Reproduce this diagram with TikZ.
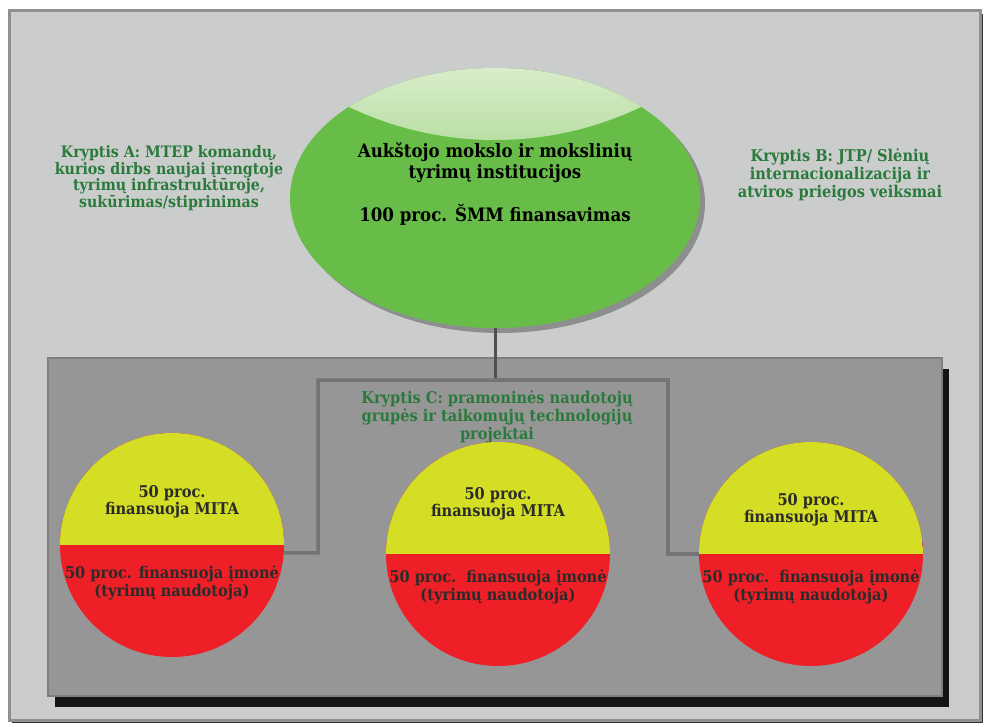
\documentclass[tikz,border=0pt]{standalone}
\usepackage{fontspec}
\setmainfont{DejaVu Serif}[FakeStretch=0.9]
\usetikzlibrary{shapes.geometric,shadows}
\definecolor{frameFill}{HTML}{CBCDCC}
\definecolor{frameLine}{HTML}{8F9092}
\definecolor{panelFill}{HTML}{969696}
\definecolor{panelLine}{HTML}{7E7E7E}
\definecolor{ovalGreen}{HTML}{67BD47}
\definecolor{hiTop}{HTML}{DCEFD0}
\definecolor{hiBot}{HTML}{B9DEA3}
\definecolor{mitaYellow}{HTML}{D4DE24}
\definecolor{firmRed}{HTML}{EE1F26}
\definecolor{txtGreen}{HTML}{2A7A3C}
\definecolor{txtDark}{HTML}{2B2B2B}
\definecolor{linkGray}{HTML}{747474}
\definecolor{stemGray}{HTML}{4F4F4F}
\tikzset{
  bigoval/.style={ellipse, fill=ovalGreen, minimum width=410pt, minimum height=260pt, inner sep=0pt,
    drop shadow={shadow xshift=5pt, shadow yshift=-5pt, fill=black, opacity=0.3}},
  disc/.style={circle, fill=firmRed, minimum size=224pt, inner sep=0pt,
    path picture={\fill[mitaYellow] (path picture bounding box.north west) rectangle (path picture bounding box.east);}},
  greentxt/.style={text=txtGreen, align=center, font=\bfseries\fontsize{16.2}{18}\selectfont},
  darktxt/.style={text=txtDark, align=center, font=\bfseries\fontsize{16.2}{17.5}\selectfont},
  link/.style={draw=linkGray, line width=3.5pt},
  stem/.style={draw=stemGray, line width=3pt},
}
\begin{document}
\begin{tikzpicture}[x=1pt, y=-1pt]
\useasboundingbox (0,0) rectangle (988,727);
\fill[white] (0,0) rectangle (988,727);
\draw[frameLine, line width=3pt, fill=frameFill, drop shadow={shadow xshift=3pt, shadow yshift=-3pt, fill=black, opacity=0.8}] (9,11) rectangle (980,720);
\draw[panelLine, line width=2.5pt, fill=panelFill, drop shadow={shadow xshift=7pt, shadow yshift=-11pt, fill=black, opacity=0.9}] (48,358) rectangle (942,696);
\node[bigoval] (inst) at (495,198) {};
\begin{scope}
\clip (495,198) ellipse [x radius=205, y radius=130];
\clip (495,-198) circle [radius=338];
\shade[top color=hiTop, bottom color=hiBot] (285,60) rectangle (705,142);
\end{scope}
\node[text=black, align=center, font=\bfseries\fontsize{18.5}{21}\selectfont] (instTxt) at (495,184) {Aukštojo mokslo ir mokslinių\\tyrimų institucijos\\[21pt]100 proc. ŠMM finansavimas};
\node[greentxt, font=\bfseries\fontsize{15.8}{16.5}\selectfont] (kryptA) at (169,178) {Kryptis A: MTEP komandų,\\kurios dirbs naujai įrengtoje\\tyrimų infrastruktūroje,\\sukūrimas/stiprinimas};
\node[greentxt] (kryptB) at (840,175) {Kryptis B: JTP/ Slėnių\\internacionalizacija ir\\atviros prieigos veiksmai};
\node[greentxt] (kryptC) at (497,417) {Kryptis C: pramoninės naudotojų\\grupės ir taikomųjų technologijų\\projektai};
\node[disc] (fundL) at (172,545) {};
\node[disc] (fundM) at (498,554) {};
\node[disc] (fundR) at (811,554) {};
\node[darktxt] (mitaL) at (172,502) {50 proc.\\finansuoja MITA};
\node[darktxt] (firmL) at (172,583) {50 proc. finansuoja įmonė\\(tyrimų naudotoja)};
\node[darktxt] (mitaM) at (498,504) {50 proc.\\finansuoja MITA};
\node[darktxt] (firmM) at (498,587) {50 proc.\ \ finansuoja įmonė\\(tyrimų naudotoja)};
\node[darktxt] (mitaR) at (811,510) {50 proc.\\finansuoja MITA};
\node[darktxt] (firmR) at (811,587) {50 proc.\ \ finansuoja įmonė\\(tyrimų naudotoja)};
\coordinate (hub) at (495,380);
\coordinate (kneeL) at (318,553);
\coordinate (kneeR) at (668,554);
\draw[stem] (inst.south) -- (hub);
\draw[link] (hub) -| (kneeL) -- (fundL.-4);
\draw[link] (hub) -| (kneeR) -- (fundR.west);
\end{tikzpicture}
\end{document}
